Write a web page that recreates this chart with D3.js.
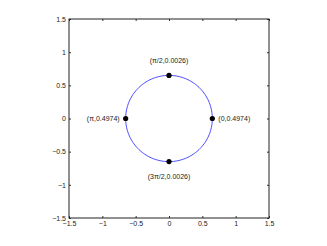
<!DOCTYPE html>
<html>
<head>
<meta charset="utf-8">
<script src="https://cdn.jsdelivr.net/npm/d3@7"></script>
<style>
  body { margin: 0; background: #fff; }
  text { font-family: "Liberation Sans", Arial, sans-serif; }
</style>
</head>
<body>
<div id="chart"></div>
<script>
const ticks = [-1.5, -1, -0.5, 0, 0.5, 1, 1.5];
const tickLabels = ["\u22121.5", "\u22121", "\u22120.5", "0", "0.5", "1", "1.5"];
const radius = 0.65;
const pointAngles = [0, Math.PI / 2, Math.PI, 3 * Math.PI / 2];
const pointLabels = ["(0,0.4974)", "(\u03c0/2,0.0026)", "(\u03c0,0.4974)", "(3\u03c0/2,0.0026)"];

const W = 327, H = 246;
const margin = { top: 19, right: 58, bottom: 28, left: 69 };
const w = W - margin.left - margin.right;
const h = H - margin.top - margin.bottom;

const svg = d3.select("#chart").append("svg")
  .attr("width", W).attr("height", H);
const g = svg.append("g").attr("transform", `translate(${margin.left},${margin.top})`);

const x = d3.scaleLinear().domain([-1.5, 1.5]).range([0, w]);
const y = d3.scaleLinear().domain([-1.5, 1.5]).range([h, 0]);

const fmt = (d) => tickLabels[ticks.indexOf(d)];

// axes with inward ticks
const ax = (axis) => axis.tickValues(ticks).tickFormat(fmt).tickSizeInner(-2).tickSizeOuter(0).tickPadding(3);
const styleAxis = (sel) => {
  sel.selectAll("text").style("font-size", "7px").style("fill", "#222")
    .style("font-family", "'Liberation Sans', Arial, sans-serif");
  sel.selectAll("line").attr("stroke", "#333");
  sel.select(".domain").remove();
};
g.append("g").attr("transform", `translate(0,${h})`).call(ax(d3.axisBottom(x))).call(styleAxis);
g.append("g").call(ax(d3.axisLeft(y))).call(styleAxis);
const topAxis = g.append("g").call(d3.axisTop(x).tickValues(ticks).tickSize(-2).tickFormat(""));
topAxis.select(".domain").remove(); topAxis.selectAll("line").attr("stroke", "#333");
const rightAxis = g.append("g").attr("transform", `translate(${w},0)`).call(d3.axisRight(y).tickValues(ticks).tickSize(-2).tickFormat(""));
rightAxis.select(".domain").remove(); rightAxis.selectAll("line").attr("stroke", "#333");

g.append("rect").attr("width", w).attr("height", h)
  .attr("fill", "none").attr("stroke", "#222").attr("stroke-width", 1);

// circle
const circ = d3.range(0, 361, 2).map((a) => [radius * Math.cos(a * Math.PI / 180), radius * Math.sin(a * Math.PI / 180)]);
g.append("path").datum(circ)
  .attr("d", d3.line().x((d) => x(d[0])).y((d) => y(d[1])))
  .attr("fill", "none").attr("stroke", "#0000ff").attr("stroke-width", 0.7);

// points
const pts = pointAngles.map((a, i) => ({ px: radius * Math.cos(a), py: radius * Math.sin(a), label: pointLabels[i], i }));
g.selectAll(".pt").data(pts).enter().append("circle")
  .attr("cx", (d) => x(d.px)).attr("cy", (d) => y(d.py)).attr("r", 2.6).attr("fill", "#000");

const lab = [
  { dx: 6, dy: 2.5, anchor: "start" },
  { dx: 0, dy: -12, anchor: "middle" },
  { dx: -6, dy: 2.5, anchor: "end" },
  { dx: 0, dy: 17, anchor: "middle" }
];
g.selectAll(".lbl").data(pts).enter().append("text")
  .attr("x", (d) => x(d.px) + lab[d.i].dx)
  .attr("y", (d) => y(d.py) + lab[d.i].dy)
  .attr("text-anchor", (d) => lab[d.i].anchor)
  .style("font-size", "7px").style("fill", "#222")
  .text((d) => d.label);
</script>
</body>
</html>
